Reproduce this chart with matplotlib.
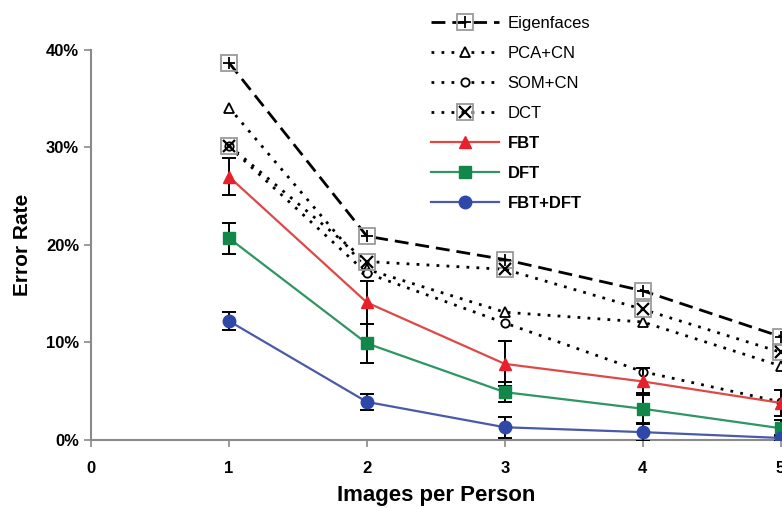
import matplotlib
matplotlib.use("Agg")
import matplotlib.pyplot as plt
from matplotlib.ticker import FuncFormatter

plt.rcParams['font.family'] = ['Liberation Sans', 'DejaVu Sans']

# images per person
x = [1, 2, 3, 4, 5]

# error rates (%)
eigen = [38.7, 20.9, 18.5, 15.3, 10.6]
pca_cn = [34.1, 17.5, 13.1, 12.1, 7.6]
som_cn = [30.1, 17.1, 12.0, 7.0, 3.9]
dct = [30.2, 18.3, 17.5, 13.4, 9.0]
fbt = [27.0, 14.1, 7.8, 6.0, 3.8]
dft = [20.7, 9.9, 4.9, 3.2, 1.2]
fbt_dft = [12.2, 3.9, 1.3, 0.8, 0.2]

# error bar half widths (%)
fbt_err = [1.9, 2.2, 2.3, 1.4, 1.3]
dft_err = [1.6, 2.0, 1.0, 1.6, 0.8]
fbt_dft_err = [0.9, 0.8, 1.1, 0.9, 0.3]

labels = ['Eigenfaces', 'PCA+CN', 'SOM+CN', 'DCT', 'FBT', 'DFT', 'FBT+DFT']


def pct(v):
    return [a / 100.0 for a in v]


fig = plt.figure(figsize=(7.82, 5.08), dpi=100)
ax = fig.add_axes([0.1164, 0.134, 0.8836, 0.7676])

dots = (0, (1, 2.6))
gray = '#8a8a8a'

# Eigenfaces: dashed with boxed plus
h1a, = ax.plot(x, pct(eigen), color='black', lw=2, ls=(0, (5, 2.5)),
               marker='s', ms=11, mfc='none', mec='#9a9a9a', mew=1.3, zorder=3)
h1b, = ax.plot(x, pct(eigen), ls='none', marker='+', ms=9, mec='black', mew=1.3, zorder=4)

h2, = ax.plot(x, pct(pca_cn), color='black', lw=2, ls=dots,
              marker='^', ms=7, mfc='white', mec='black', mew=1.3, zorder=3)
h3, = ax.plot(x, pct(som_cn), color='black', lw=2, ls=dots,
              marker='o', ms=6, mfc='white', mec='black', mew=1.3, zorder=3)

h4a, = ax.plot(x, pct(dct), color='black', lw=2, ls=dots,
               marker='s', ms=11, mfc='none', mec='#9a9a9a', mew=1.3, zorder=3)
h4b, = ax.plot(x, pct(dct), ls='none', marker='x', ms=8, mec='black', mew=1.6, zorder=4)

err_kw = dict(ecolor='black', elinewidth=1.4, capsize=5, capthick=1.4)
e5 = ax.errorbar(x, pct(fbt), yerr=pct(fbt_err), color='#e04848', lw=1.6,
                 marker='^', ms=9, mfc='#e8202c', mec='#e8202c', zorder=5, **err_kw)
e6 = ax.errorbar(x, pct(dft), yerr=pct(dft_err), color='#2e9563', lw=1.6,
                 marker='s', ms=8, mfc='#12874a', mec='#12874a', zorder=5, **err_kw)
e7 = ax.errorbar(x, pct(fbt_dft), yerr=pct(fbt_dft_err), color='#4a5aa8', lw=1.6,
                 marker='o', ms=9, mfc='#2f48a8', mec='#2f48a8', zorder=5, **err_kw)

ax.set_xlim(0, 5.01)
ax.set_ylim(0, 0.40)
ax.set_xticks([0, 1, 2, 3, 4, 5])
ax.set_yticks([0, 0.1, 0.2, 0.3, 0.4])
ax.yaxis.set_major_formatter(FuncFormatter(lambda v, p: '%d%%' % round(v * 100)))

for s in ['top', 'right']:
    ax.spines[s].set_visible(False)
for s in ['left', 'bottom']:
    ax.spines[s].set_color(gray)
    ax.spines[s].set_linewidth(1.5)
ax.tick_params(axis='both', colors=gray, width=1.2, length=5, labelsize=12, labelcolor='black')
ax.tick_params(axis='x', pad=10)
for t in ax.get_xticklabels() + ax.get_yticklabels():
    t.set_fontweight('bold')

ax.set_xlabel('Images per Person', fontsize=16, fontweight='bold', labelpad=7)
ax.set_ylabel('Error Rate', fontsize=15, fontweight='bold', labelpad=10)

handles = [(h1a, h1b), h2, h3, (h4a, h4b), e5.lines[0], e6.lines[0], e7.lines[0]]
leg = fig.legend(handles, labels, loc='upper left', bbox_to_anchor=(0.532, 0.998),
                 frameon=False, fontsize=12, handlelength=4.1, labelspacing=0.9,
                 handletextpad=0.5)
for t in leg.get_texts()[4:]:
    t.set_fontweight('bold')

fig.savefig('out.png', dpi=100)
